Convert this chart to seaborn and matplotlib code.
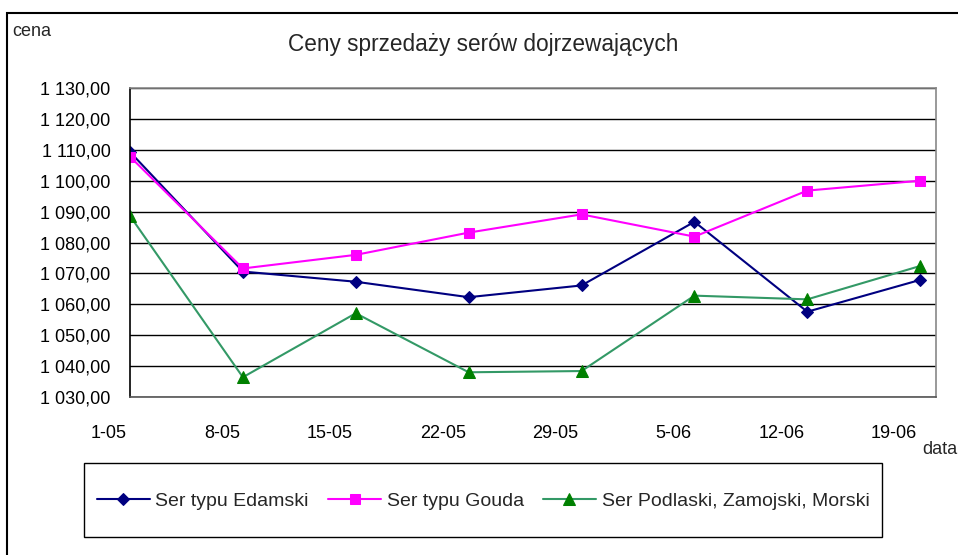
import numpy as np
import pandas as pd
import matplotlib
matplotlib.use("Agg")
import matplotlib.pyplot as plt
import matplotlib.transforms as mtransforms
from matplotlib.patches import Rectangle
from matplotlib.ticker import FuncFormatter
import seaborn as sns

# dane
daty = ['1-05', '8-05', '15-05', '22-05', '29-05', '5-06', '12-06', '19-06']
edamski = [1109.3, 1070.6, 1067.3, 1062.3, 1066.1, 1086.7, 1057.6, 1067.9]
gouda = [1107.8, 1071.6, 1076.0, 1083.2, 1089.1, 1081.9, 1096.8, 1100.0]
podlaski = [1088.6, 1036.4, 1057.1, 1038.0, 1038.4, 1062.8, 1061.6, 1072.4]
nazwy = ['Ser typu Edamski', 'Ser typu Gouda', 'Ser Podlaski, Zamojski, Morski']
y_ticks = list(range(1030, 1131, 10))

sns.set_style('white')
plt.rcParams['font.family'] = ['Liberation Sans', 'DejaVu Sans']

W, H = 958, 555
fig = plt.figure(figsize=(W / 100, H / 100), dpi=100)
ax = fig.add_axes([130 / W, (H - 397) / H, 806 / W, 309 / H])

df = pd.DataFrame({'x': np.arange(len(daty)), 'edamski': edamski,
                   'gouda': gouda, 'podlaski': podlaski})

sns.lineplot(data=df, x='x', y='edamski', ax=ax, color='#000080', lw=1.5,
             marker='D', markersize=6.5, markerfacecolor='#000080',
             markeredgecolor='#000080', label=nazwy[0], sort=False)
sns.lineplot(data=df, x='x', y='gouda', ax=ax, color='#FF00FF', lw=1.5,
             marker='s', markersize=7, markerfacecolor='#FF00FF',
             markeredgecolor='#FF00FF', label=nazwy[1], sort=False)
sns.lineplot(data=df, x='x', y='podlaski', ax=ax, color='#339966', lw=1.5,
             marker='^', markersize=8.5, markerfacecolor='#008000',
             markeredgecolor='#008000', label=nazwy[2], sort=False)

ax.set_xlim(0, 7.14)
ax.set_ylim(1030, 1130)
ax.set_xticks(np.arange(len(daty)))
ax.set_xticklabels(daty)
ax.set_yticks(y_ticks)
ax.yaxis.set_major_formatter(FuncFormatter(
    lambda v, p: f"{v:,.2f}".replace(',', ' ').replace('.', ',')))
ax.set_xlabel('')
ax.set_ylabel('')

# siatka
for v in y_ticks:
    ax.axhline(v, color='black', lw=1, zorder=0)

ax.tick_params(axis='both', direction='out', length=5, width=1, color='black',
               labelsize=13, labelcolor='black')
ax.tick_params(axis='x', pad=15)
ax.tick_params(axis='y', pad=9)
# etykiety dat wyrownane do prawej, jak w Excelu
przesun = mtransforms.ScaledTranslation(-3 / 100, 0, fig.dpi_scale_trans)
for lab in ax.get_xticklabels():
    lab.set_ha('right')
    lab.set_transform(lab.get_transform() + przesun)

ax.spines['left'].set_color('black')
ax.spines['bottom'].set_color('#555555')
ax.spines['top'].set_color('#888888')
ax.spines['right'].set_color('#888888')
for s in ax.spines.values():
    s.set_linewidth(1.2)

ax.get_legend().remove()
handles, labels = ax.get_legend_handles_labels()
fig.legend(handles, labels, loc='center left', ncol=3,
           bbox_to_anchor=(97 / W, 1 - 501 / H), frameon=False, fontsize=14,
           handlelength=2.7, handletextpad=0.3, columnspacing=1.0,
           borderpad=0, borderaxespad=0)
fig.add_artist(Rectangle((84 / W, 1 - 537 / H), 798 / W, 74 / H,
                         transform=fig.transFigure, fill=False,
                         edgecolor='black', lw=1))

# ramka calego wykresu
fig.add_artist(Rectangle((7 / W, -0.1), 1.2, 1.1 - 13 / H,
                         transform=fig.transFigure, fill=False,
                         edgecolor='black', lw=1.5))

fig.text(483 / W, 1 - 44 / H, 'Ceny sprzedaży serów dojrzewających',
         ha='center', va='center', fontsize=16.3)
fig.text(12 / W, 1 - 31 / H, 'cena', ha='left', va='center', fontsize=13)
fig.text(922 / W, 1 - 449 / H, 'data', ha='left', va='center', fontsize=13)

fig.savefig('out.png', dpi=100)
plt.close(fig)
